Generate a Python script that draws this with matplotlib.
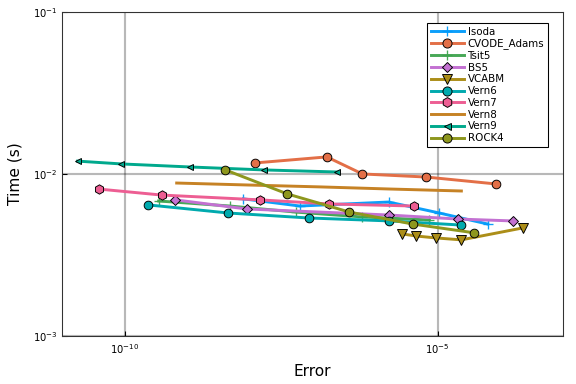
import matplotlib
matplotlib.use("Agg")
import matplotlib.pyplot as plt

# ---- data ----
lsoda_x = [7.9e-9, 6.3e-8, 1.66e-6, 1.07e-5, 6.3e-5]
lsoda_y = [0.00702, 0.00634, 0.00671, 0.00574, 0.00491]

cvode_x = [1.20e-8, 1.70e-7, 6.3e-7, 6.6e-6, 8.7e-5]
cvode_y = [0.01169, 0.01274, 0.0100, 0.00957, 0.00867]

tsit5_x = [3.5e-10, 4.8e-9, 5.4e-8, 6.2e-7, 7.4e-6]
tsit5_y = [0.00681, 0.00634, 0.00582, 0.00543, 0.00520]

bs5_x = [6.5e-10, 8.9e-9, 1.66e-6, 2.09e-5, 1.58e-4]
bs5_y = [0.00692, 0.00608, 0.00558, 0.00527, 0.00513]

vcabm_x = [2.66e-6, 4.57e-6, 9.3e-6, 2.4e-5, 2.34e-4]
vcabm_y = [0.00427, 0.00414, 0.00403, 0.00392, 0.00465]

vern6_x = [2.4e-10, 4.57e-9, 8.7e-8, 1.70e-6, 2.34e-5]
vern6_y = [0.00644, 0.00574, 0.00535, 0.00513, 0.00484]

vern7_x = [3.85e-11, 3.9e-10, 1.45e-8, 1.86e-7, 4.17e-6]
vern7_y = [0.00807, 0.00741, 0.00692, 0.00653, 0.00634]

vern8_x = [6.8e-10, 9.1e-9, 1.32e-7, 1.78e-6, 2.4e-5]
vern8_y = [0.00879, 0.00855, 0.00832, 0.00807, 0.00785]

vern9_x = [1.78e-11, 8.9e-11, 1.12e-9, 1.66e-8, 2.51e-7]
vern9_y = [0.0120, 0.01153, 0.01104, 0.01059, 0.01028]

rock4_x = [4.07e-9, 3.98e-8, 3.89e-7, 3.98e-6, 3.89e-5]
rock4_y = [0.01059, 0.00753, 0.00582, 0.00491, 0.00433]

labels = ["lsoda", "CVODE_Adams", "Tsit5", "BS5", "VCABM",
          "Vern6", "Vern7", "Vern8", "Vern9", "ROCK4"]
xs = [lsoda_x, cvode_x, tsit5_x, bs5_x, vcabm_x, vern6_x, vern7_x, vern8_x, vern9_x, rock4_x]
ys = [lsoda_y, cvode_y, tsit5_y, bs5_y, vcabm_y, vern6_y, vern7_y, vern8_y, vern9_y, rock4_y]

colors = ["#009AFA", "#E36F47", "#3EA44E", "#C371D2", "#AC8E18",
          "#00AAAE", "#ED5E93", "#C68225", "#00A98D", "#8E971E"]
markers = ["+", "o", "+", "D", "v", "o", "h", "", "<", "o"]
msizes = [7, 6.5, 7, 5, 7, 6.5, 7, 0, 5, 6.5]

fig = plt.figure(figsize=(6, 4), dpi=96)
ax = fig.add_axes([0.1076, 0.125, 0.8694, 0.844])

for x, y, lab, c, m, ms in zip(xs, ys, labels, colors, markers, msizes):
    if m in ("+",):
        ax.plot(x, y, color=c, lw=2.2, marker=m, ms=ms, mew=1.0,
                mec=c, label=lab, alpha=0.95)
    elif m == "":
        ax.plot(x, y, color=c, lw=2.2, label=lab)
    else:
        ax.plot(x, y, color=c, lw=2.2, marker=m, ms=ms, mfc=c,
                mec="black", mew=0.7, label=lab)

ax.set_xscale("log")
ax.set_yscale("log")
ax.set_xlim(1e-11, 1e-3)
ax.set_ylim(1e-3, 1e-1)
ax.set_xticks([1e-10, 1e-5])
ax.set_yticks([1e-3, 1e-2, 1e-1])
ax.minorticks_off()
ax.tick_params(direction="in", labelsize=7.5, length=4, width=0.8)
ax.tick_params(axis="x", pad=5)
ax.grid(True, color="black", alpha=0.28, lw=1.6)
ax.set_axisbelow(True)
for s in ax.spines.values():
    s.set_linewidth(0.8)
    s.set_color("#333333")
ax.set_xlabel("Error", fontsize=11.5, labelpad=6)
ax.set_ylabel("Time (s)", fontsize=11.5, labelpad=8)

leg = ax.legend(loc="upper right", bbox_to_anchor=(0.970, 0.966), fontsize=7.7,
                handlelength=3.3, labelspacing=0.17, borderpad=0.35,
                borderaxespad=0.0, markerscale=1.05,
                handletextpad=0.3, fancybox=False, framealpha=1,
                edgecolor="black")
leg.get_frame().set_linewidth(0.8)

fig.savefig("out.png", dpi=96)
